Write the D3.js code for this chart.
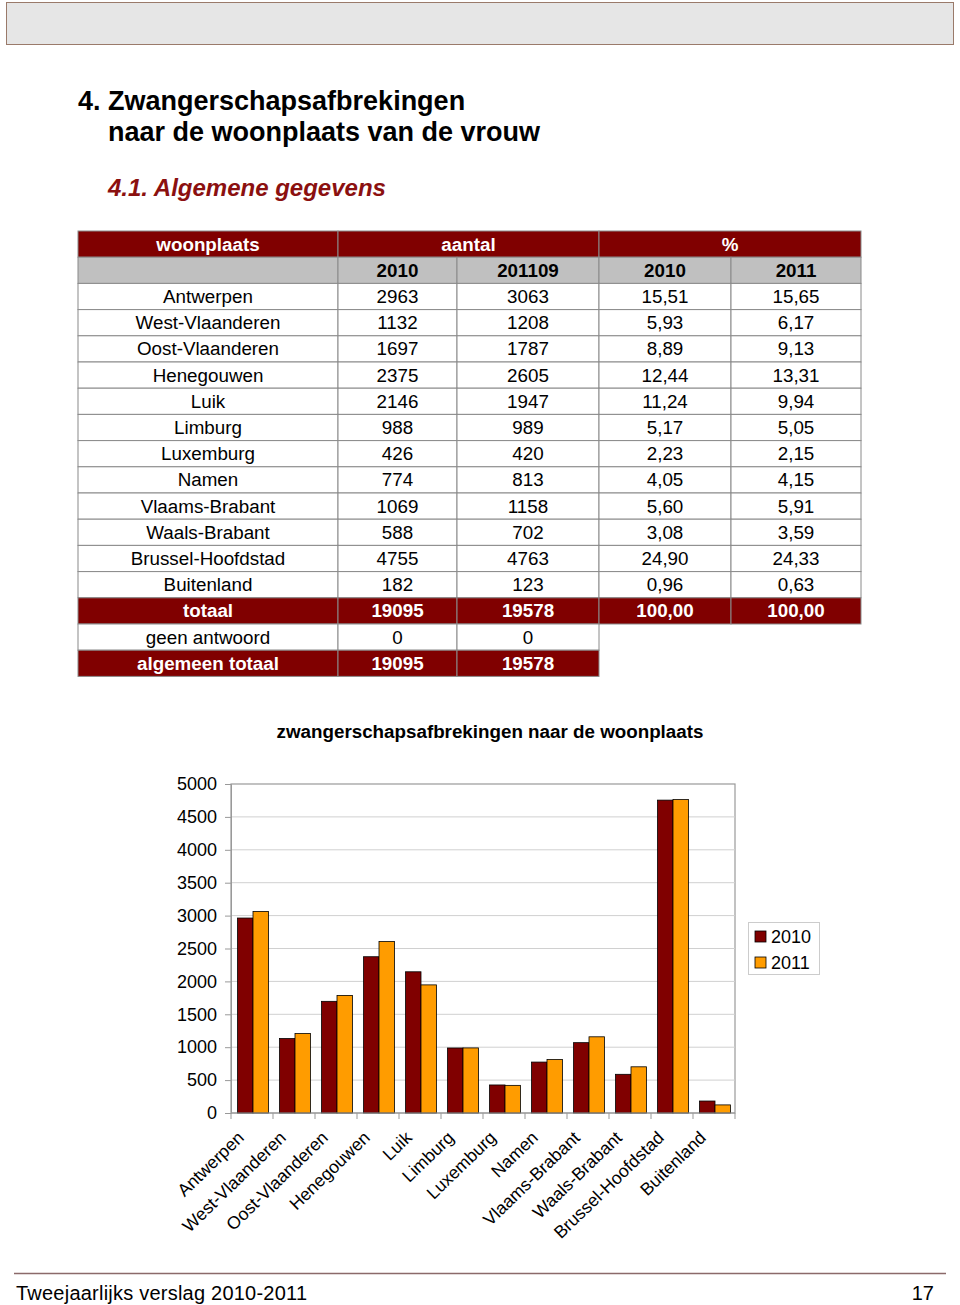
<!DOCTYPE html>
<html><head><meta charset="utf-8">
<script src="https://cdn.jsdelivr.net/npm/d3@7"></script>
<style>body{margin:0;background:#fff}svg{display:block;font-family:"Liberation Sans",Arial,sans-serif}</style>
</head><body>
<svg id="page" width="960" height="1305"></svg>
<script>
const categories = ["Antwerpen","West-Vlaanderen","Oost-Vlaanderen","Henegouwen","Luik","Limburg","Luxemburg","Namen","Vlaams-Brabant","Waals-Brabant","Brussel-Hoofdstad","Buitenland"];
const values2010 = [2963,1132,1697,2375,2146,988,426,774,1069,588,4755,182];
const values2011 = [3063,1208,1787,2605,1947,989,420,813,1158,702,4763,123];
const pct2010 = ["15,51","5,93","8,89","12,44","11,24","5,17","2,23","4,05","5,60","3,08","24,90","0,96"];
const pct2011 = ["15,65","6,17","9,13","13,31","9,94","5,05","2,15","4,15","5,91","3,59","24,33","0,63"];
const seriesNames = ["2010","2011"];
const subHeaders = ["2010","201109","2010","2011"];
const totals = ["19095","19578","100,00","100,00"];
const noAnswer = ["0","0"];
const grandTotals = ["19095","19578"];
const yTicks = [0,500,1000,1500,2000,2500,3000,3500,4000,4500,5000];

(function(){
const svg = d3.select("#page");
const RED = "#800000", ORANGE = "#ff9c00";

// header bar
svg.append("rect").attr("x",6.5).attr("y",2.5).attr("width",947).attr("height",42)
  .attr("fill","#e6e6e6").attr("stroke","#9a7a6a").attr("stroke-width",1);

// titles
svg.append("text").attr("x",78).attr("y",110).attr("font-size",27).attr("font-weight","bold").text("4. Zwangerschapsafbrekingen");
svg.append("text").attr("x",108).attr("y",141).attr("font-size",27).attr("font-weight","bold").text("naar de woonplaats van de vrouw");
svg.append("text").attr("x",108).attr("y",196).attr("font-size",24).attr("font-weight","bold").attr("font-style","italic").attr("fill","#8b1010").text("4.1. Algemene gegevens");

// table
const cols = [78,338,457,599,731,861];
const rowH = 26.2, tableTop = 231;
const t = svg.append("g");
function cell(x0,x1,r,txt,fill,color,bold){
  const yy = tableTop + r*rowH;
  t.append("rect").attr("x",x0).attr("y",yy).attr("width",x1-x0).attr("height",rowH)
    .attr("fill",fill).attr("stroke","#8a8a8a").attr("stroke-width",1);
  t.append("text").attr("x",(x0+x1)/2).attr("y",yy+rowH/2+6.5).attr("text-anchor","middle")
    .attr("font-size",18.8).attr("font-weight",bold?"bold":"normal").attr("fill",color).text(txt);
}
cell(cols[0],cols[1],0,"woonplaats",RED,"#fff",true);
cell(cols[1],cols[3],0,"aantal",RED,"#fff",true);
cell(cols[3],cols[5],0,"%",RED,"#fff",true);
cell(cols[0],cols[1],1,"","#c0c0c0","#000",true);
subHeaders.forEach((h,i)=>cell(cols[i+1],cols[i+2],1,h,"#c0c0c0","#000",true));
categories.forEach((c,i)=>{
  const r = i+2;
  const vals = [c, values2010[i], values2011[i], pct2010[i], pct2011[i]];
  vals.forEach((v,j)=>cell(cols[j],cols[j+1],r,v,"#fff","#000",false));
});
let r = categories.length+2;
cell(cols[0],cols[1],r,"totaal",RED,"#fff",true);
totals.forEach((v,j)=>cell(cols[j+1],cols[j+2],r,v,RED,"#fff",true));
r++;
cell(cols[0],cols[1],r,"geen antwoord","#fff","#000",false);
noAnswer.forEach((v,j)=>cell(cols[j+1],cols[j+2],r,v,"#fff","#000",false));
r++;
cell(cols[0],cols[1],r,"algemeen totaal",RED,"#fff",true);
grandTotals.forEach((v,j)=>cell(cols[j+1],cols[j+2],r,v,RED,"#fff",true));

// chart
svg.append("text").attr("x",490).attr("y",738).attr("text-anchor","middle").attr("font-size",18.8).attr("font-weight","bold")
  .text("zwangerschapsafbrekingen naar de woonplaats");

const px0 = 231, px1 = 735, py0 = 784, py1 = 1113;
const x = d3.scaleBand().domain(categories).range([px0,px1]).paddingInner(0).paddingOuter(0);
const xs = d3.scaleBand().domain(seriesNames).range([0,x.bandwidth()]).paddingInner(0).paddingOuter(0.36);
const y = d3.scaleLinear().domain([0,5000]).range([py1,py0]);

const g = svg.append("g");
g.append("rect").attr("x",px0).attr("y",py0).attr("width",px1-px0).attr("height",py1-py0).attr("fill","#fff").attr("stroke","#999").attr("stroke-width",1.2);
g.selectAll("line.grid").data(yTicks.filter(d=>d>0&&d<5000)).join("line").attr("class","grid")
  .attr("x1",px0).attr("x2",px1).attr("y1",d=>y(d)).attr("y2",d=>y(d)).attr("stroke","#d0d0d0").attr("stroke-width",1);

const yAxis = g.append("g").attr("transform",`translate(${px0},0)`)
  .call(d3.axisLeft(y).tickValues(yTicks).tickSize(6).tickPadding(8).tickFormat(d3.format("d")));
yAxis.select(".domain").attr("stroke","#999");
yAxis.selectAll(".tick line").attr("stroke","#999");
yAxis.selectAll("text").attr("font-size",18).attr("font-family","Liberation Sans, Arial, sans-serif").attr("fill","#000");

const groups = g.selectAll("g.grp").data(categories).join("g").attr("class","grp").attr("transform",d=>`translate(${x(d)+1},0)`);
groups.append("rect").attr("x",xs("2010")).attr("width",xs.bandwidth())
  .attr("y",(d,i)=>y(values2010[i])).attr("height",(d,i)=>py1-y(values2010[i]))
  .attr("fill",RED).attr("stroke","#000").attr("stroke-width",0.8);
groups.append("rect").attr("x",xs("2011")).attr("width",xs.bandwidth())
  .attr("y",(d,i)=>y(values2011[i])).attr("height",(d,i)=>py1-y(values2011[i]))
  .attr("fill",ORANGE).attr("stroke","#000").attr("stroke-width",0.8);

// x axis
g.append("line").attr("x1",px0).attr("x2",px1).attr("y1",py1).attr("y2",py1).attr("stroke","#999").attr("stroke-width",1.2);
const bounds = categories.map(c=>x(c)).concat([px1]);
g.selectAll("line.xt").data(bounds).join("line").attr("class","xt")
  .attr("x1",d=>d).attr("x2",d=>d).attr("y1",py1).attr("y2",py1+6).attr("stroke","#999");
g.selectAll("text.xl").data(categories).join("text").attr("class","xl")
  .attr("text-anchor","end").attr("font-size",17.6)
  .attr("transform",d=>`translate(${x(d)+x.bandwidth()/2-7},${py1+26}) rotate(-44)`)
  .text(d=>d);

// legend
const lg = svg.append("g");
lg.append("rect").attr("x",748.5).attr("y",922.5).attr("width",71).attr("height",52).attr("fill","#fff").attr("stroke","#ccc");
seriesNames.forEach((s,i)=>{
  lg.append("rect").attr("x",755).attr("y",931+i*26).attr("width",11).attr("height",11)
    .attr("fill",i?ORANGE:RED).attr("stroke","#000").attr("stroke-width",0.8);
  lg.append("text").attr("x",771).attr("y",943+i*26).attr("font-size",18).text(s);
});

// footer
svg.append("line").attr("x1",14).attr("x2",946).attr("y1",1273.5).attr("y2",1273.5).attr("stroke","#8b6a6a").attr("stroke-width",1.5);
svg.append("text").attr("x",16).attr("y",1300).attr("font-size",20).attr("textLength",291).text("Tweejaarlijks verslag 2010-2011");
svg.append("text").attr("x",934).attr("y",1300).attr("font-size",20).attr("text-anchor","end").text("17");
})();
</script>
</body></html>
